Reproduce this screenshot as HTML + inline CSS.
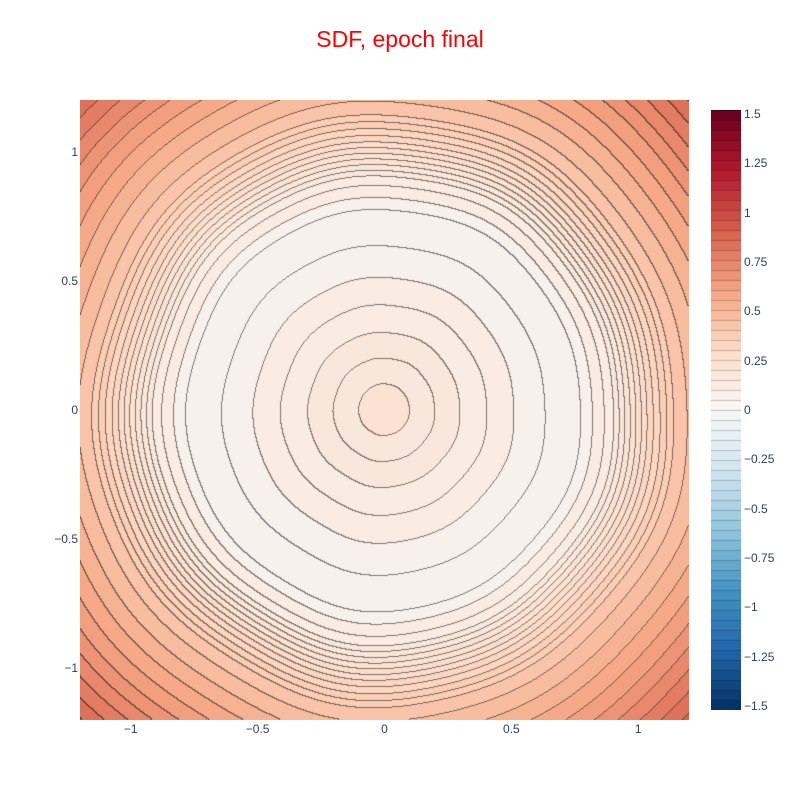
<!DOCTYPE html>
<html><head><meta charset="utf-8"><style>
body{margin:0;background:#fff;width:800px;height:800px;position:relative;overflow:hidden;font-family:"Liberation Sans",sans-serif}
.t{position:absolute;font-size:12px;color:#2a3f5f;white-space:nowrap}
</style></head><body>
<div style="position:absolute;left:0;width:800px;top:26px;text-align:center;font-size:23px;color:#f00">SDF, epoch final</div>
<div id="yl"></div><div id="xl"></div><div id="cl"></div>
<canvas id="plot" width="609" height="620" style="position:absolute;left:80px;top:100px"></canvas>
<canvas id="cbar" width="30" height="600" style="position:absolute;left:711px;top:110px"></canvas>
<script>
const radii=[0,0.1,0.2,0.3,0.45,0.6,0.75,0.9,1.05,1.2,1.45,1.75];
const values=[0.22,0.2,0.175,0.15,0.115,0.08,0.06,0.14,0.31,0.45,0.64,0.9];
const xTicks=[-1,-0.5,0,0.5,1];
const yTicks=[1,0.5,0,-0.5,-1];
const cTicks=[1.5,1.25,1,0.75,0.5,0.25,0,-0.25,-0.5,-0.75,-1,-1.25,-1.5];
const scale=[[5,48,97],[33,102,172],[67,147,195],[146,197,222],[209,229,240],[247,247,247],[253,219,199],[244,165,130],[214,96,77],[178,24,43],[103,0,31]];
const X0=80,X1=689,Y0=100,Y1=720,xmin=-1.2,xmax=1.2,ymin=-1.2,ymax=1.2,zmin=-1.5,zmax=1.5,step=0.05,lineStep=0.025;
const sx=v=>X0+(v-xmin)/(xmax-xmin)*(X1-X0), sy=v=>Y1-(v-ymin)/(ymax-ymin)*(Y1-Y0);
function prof(r){for(let i=1;i<radii.length;i++)if(r<=radii[i]){const t=(r-radii[i-1])/(radii[i]-radii[i-1]);return values[i-1]+t*(values[i]-values[i-1]);}return values[values.length-1];}
function col(z){let t=(z-zmin)/(zmax-zmin)*(scale.length-1);t=Math.max(0,Math.min(scale.length-1,t));const i=Math.min(Math.floor(t),scale.length-2),f=t-i;return scale[i].map((c,k)=>c+(scale[i+1][k]-c)*f);}
const W=609,H=620,c=document.getElementById('plot'),ctx=c.getContext('2d'),img=ctx.createImageData(W,H);
const lev=new Int16Array(W*H),ll=new Int16Array(W*H);
for(let j=0;j<H;j++)for(let i=0;i<W;i++){const x=xmin+(i+0.5)/W*(xmax-xmin),y=ymax-(j+0.5)/H*(ymax-ymin);
const a=Math.atan2(y,x);const r=Math.hypot(x,y)*(1+0.006*Math.sin(5*a)+0.005*Math.cos(9*a));
const z=prof(r);lev[j*W+i]=Math.floor((z-zmin)/step);
ll[j*W+i]=z<0.4?Math.floor((z-zmin)/lineStep):2000+Math.floor((z-zmin)/step);}
for(let j=0;j<H;j++)for(let i=0;i<W;i++){const k=j*W+i,l=lev[k],m=ll[k];let cc=col(zmin+(l+0.5)*step);
let edge=(i+1<W&&ll[k+1]!==m)||(j+1<H&&ll[k+W]!==m);
if(edge)cc=cc.map(v=>v*0.5);const p=k*4;img.data[p]=cc[0];img.data[p+1]=cc[1];img.data[p+2]=cc[2];img.data[p+3]=255;}
ctx.putImageData(img,0,0);
const cb=document.getElementById('cbar'),bx=cb.getContext('2d');const nb=Math.round((zmax-zmin)/step);
for(let k=0;k<nb;k++){const cc=col(zmin+(k+0.5)*step);const yb=600-(k+1)*600/nb;bx.fillStyle=`rgb(${cc.map(Math.round)})`;bx.fillRect(0,yb,30,600/nb+0.5);
bx.fillStyle='rgba(0,0,0,0.4)';bx.fillRect(0,Math.round(yb),30,1);}
function lab(id,t,x,y,al,name){const d=document.createElement('div');d.className='t';d.textContent=t;d.style.top=(y-7)+'px';
if(al==='c'){d.style.left=(x-30)+'px';d.style.width='60px';d.style.textAlign='center';}else if(al==='r'){d.style.left=(x-60)+'px';d.style.width='60px';d.style.textAlign='right';}else d.style.left=x+'px';


document.getElementById(id).appendChild(d);}
const fm=v=>String(v).replace('-','\u2212');
xTicks.forEach(v=>lab('xl',fm(v),sx(v),729,'c','x-tick-label'));
yTicks.forEach(v=>lab('yl',fm(v),78,sy(v),'r','y-tick-label'));
cTicks.forEach(v=>lab('cl',fm(v),744,114+(zmax-v)/(zmax-zmin)*592,'l','colorbar-tick-label'));
</script>
</body></html>
